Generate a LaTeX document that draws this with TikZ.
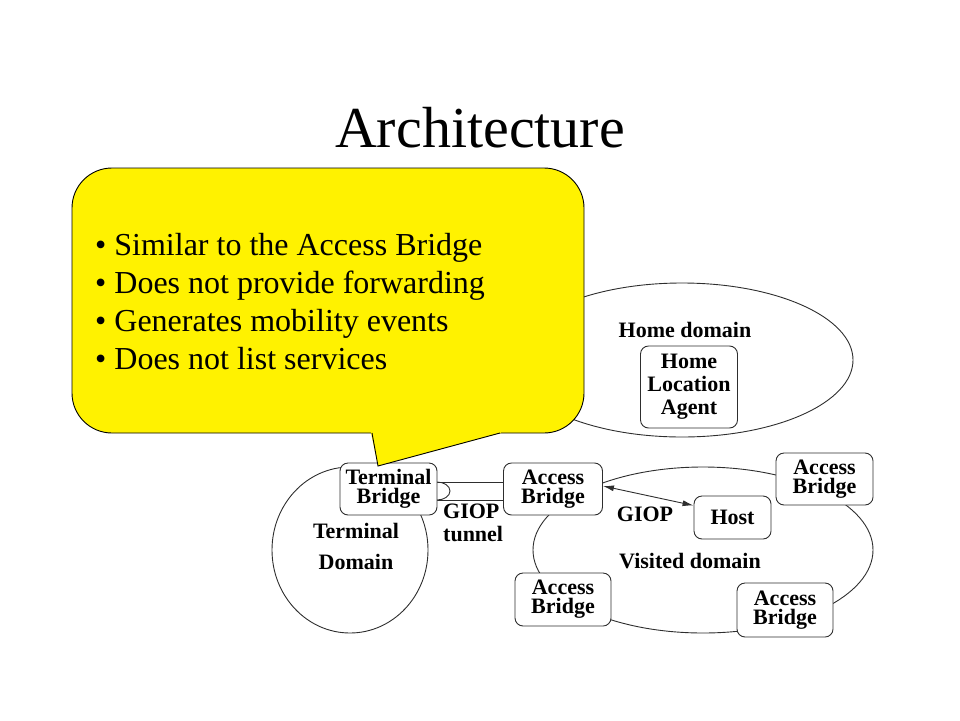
\documentclass[tikz,border=0pt]{standalone}
\usepackage{fontspec}
\setmainfont{Liberation Serif}
\usetikzlibrary{arrows.meta,calc}
\definecolor{lin}{gray}{0.18}
\begin{document}
\begin{tikzpicture}[x=1pt,y=-1pt,
  lbl/.style={font=\bfseries\fontsize{22}{19}\selectfont,align=center,inner sep=0pt},
  bbox/.style={draw=lin,line width=0.9pt,rounded corners=8pt,fill=white,
    font=\bfseries\fontsize{22}{19}\selectfont,align=center,inner sep=0pt},
  dom/.style={draw=lin,line width=0.9pt}]
\useasboundingbox (0,0) rectangle (960,720);
% title
\node[font=\fontsize{58}{60}\selectfont,inner sep=0pt] (title) at (480,128) {Architecture};
% domains
\draw[dom] (682,360) ellipse[x radius=171,y radius=77];
\draw[dom] (350,550) ellipse[x radius=78,y radius=83];
\draw[dom] (703,550) ellipse[x radius=170,y radius=83];
% tunnel
\coordinate (t1) at (437,482);
\coordinate (t2) at (437,500);
\coordinate (t3) at (503,482);
\coordinate (t4) at (503,500);
\draw[dom] (t1) -- (t3);
\draw[dom] (t2) -- (t4);
\draw[dom] (t1) arc[start angle=-90,end angle=90,x radius=13,y radius=9];
% boxes
\node[bbox,minimum width=97,minimum height=52] (TB) at (388.5,489) {Terminal\\Bridge};
\node[bbox,minimum width=99,minimum height=52] (ABl) at (553,489) {Access\\Bridge};
\node[bbox,minimum width=97,minimum height=52] (ABtr) at (824.5,479) {Access\\Bridge};
\node[bbox,minimum width=96,minimum height=53] (ABbl) at (563,599.5) {Access\\Bridge};
\node[bbox,minimum width=96,minimum height=54] (ABbr) at (785,610) {Access\\Bridge};
\node[bbox,minimum width=77,minimum height=43] (Host) at (732.5,517.5) {Host};
\node[bbox,minimum width=97,minimum height=82,font=\bfseries\fontsize{22}{23}\selectfont] (HLA) at (689,387) {Home\\Location\\Agent};
% arrow
\draw[lin,line width=0.9pt,{Latex[length=11pt,width=6pt]}-{Latex[length=11pt,width=6pt]}]
  ([yshift=3pt]ABl.east) -- ([yshift=12pt]Host.west);
% labels
\node[lbl] (homel) at (685,330) {Home domain};
\node[lbl] (visl) at (690,561) {Visited domain};
\node[lbl] (giop) at (645,514) {GIOP};
\node[lbl,font=\bfseries\fontsize{22}{31}\selectfont] (terml) at (356,546) {Terminal\\Domain};
\node[lbl,align=left,anchor=north west,font=\bfseries\fontsize{22}{23}\selectfont] (tunl) at (443,504) {GIOP\\tunnel};
% callout
\draw[black,line width=0.9pt,fill=yellow,rounded corners=40pt] (72,168) rectangle (584,433);
\fill[yellow] (373,428) -- (499,428) -- (501,433) -- (378,466) -- (371,433) -- cycle;
\draw[black,line width=0.9pt] (372,433) -- (378,466) -- (500,433);
\node[anchor=west,align=left,inner sep=0pt,font=\fontsize{32}{38}\selectfont] (callout) at (95,302)
  {\textbullet\ Similar to the Access Bridge\\
   \textbullet\ Does not provide forwarding\\
   \textbullet\ Generates mobility events\\
   \textbullet\ Does not list services};
\end{tikzpicture}
\end{document}
